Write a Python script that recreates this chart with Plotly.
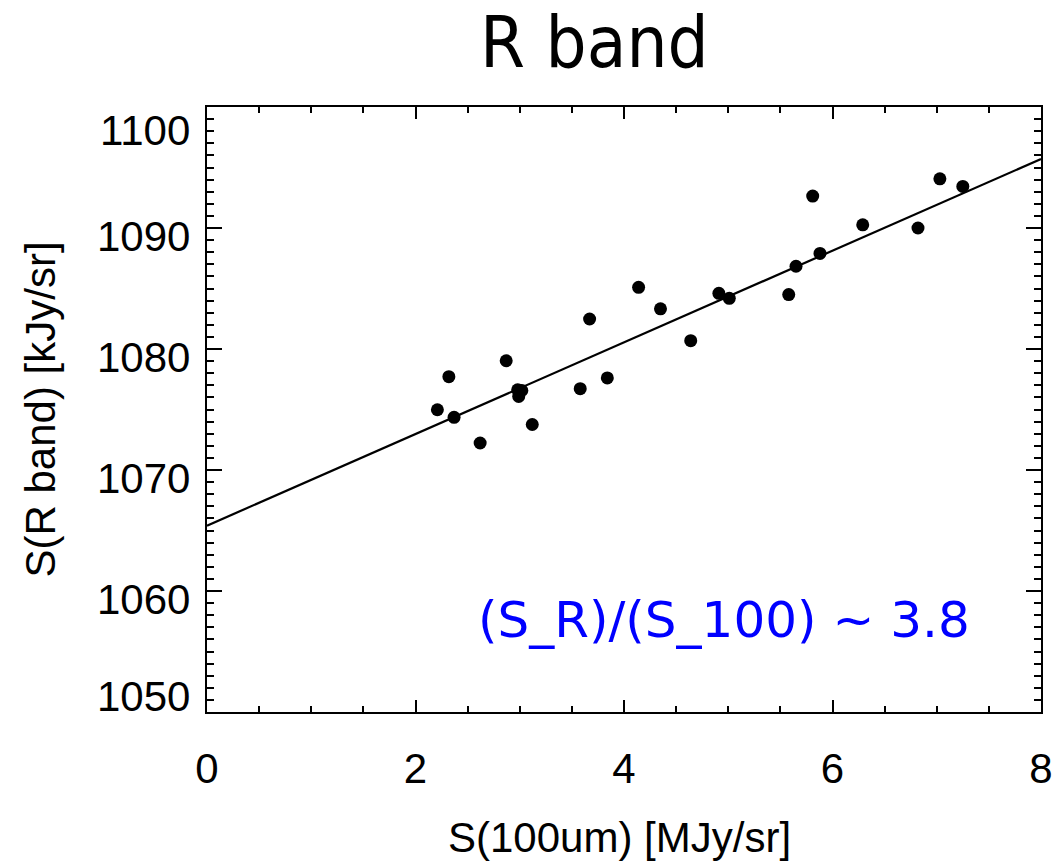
import plotly.graph_objects as go

# ---- data ----
s100 = [2.21, 2.32, 2.37, 2.62, 2.87, 2.98, 3.02, 2.99, 3.12, 3.58, 3.67, 3.84,
        4.14, 4.35, 4.64, 4.91, 5.01, 5.58, 5.65, 5.81, 5.88, 6.29, 6.82, 7.03, 7.25]
sR = [1074.98, 1077.71, 1074.35, 1072.23, 1079.03, 1076.63, 1076.57, 1076.08, 1073.76,
      1076.72, 1082.48, 1077.61, 1085.10, 1083.32, 1080.69, 1084.60, 1084.19, 1084.50,
      1086.84, 1092.64, 1087.90, 1090.26, 1090.00, 1094.06, 1093.44]
fit_x = [0, 8]
fit_y = [1065.4, 1095.7]
y_tick_vals = [1050, 1060, 1070, 1080, 1090, 1100]
y_tick_text = ["1050", "1060", "1070", "1080", "1090", "1100"]
x_tick_vals = [0, 2, 4, 6, 8]
x_tick_text = ["0", "2", "4", "6", "8"]

title_text = "R band"
x_title = "S(100um) [MJy/sr]"
y_title = "S(R band) [kJy/sr]"
ratio_text = "(S_R)/(S_100) ~ 3.8"

TICK_FONT = dict(family="Liberation Sans, Arial, sans-serif", size=42, color="black")

fig = go.Figure()
fig.add_trace(go.Scatter(x=fit_x, y=fit_y, mode="lines",
                         line=dict(color="black", width=2.2), showlegend=False))
fig.add_trace(go.Scatter(x=s100, y=sR, mode="markers",
                         marker=dict(color="black", size=13, line=dict(width=0)),
                         showlegend=False))

annotations = []
# y tick labels (IDL style: slightly below the tick, end labels kept inside the frame)
for i, (v, t) in enumerate(zip(y_tick_vals, y_tick_text)):
    if i == 0:
        ys = 16
    elif i == len(y_tick_vals) - 1:
        ys = -23
    else:
        ys = -8
    annotations.append(dict(x=0, xref="paper", xanchor="right", xshift=-15,
                            y=v, yref="y", yanchor="middle", yshift=ys,
                            text=t, showarrow=False, font=TICK_FONT))

annotations.append(dict(x=0.465, xref="paper", y=1.107, yref="paper",
                        xanchor="center", yanchor="middle", showarrow=False,
                        text=title_text,
                        font=dict(family="DejaVu Sans Condensed, DejaVu Sans", size=72, color="black")))
annotations.append(dict(x=0.495, xref="paper", y=-0.208, yref="paper",
                        xanchor="center", yanchor="middle", showarrow=False,
                        text=x_title, font=TICK_FONT))
annotations.append(dict(x=0, xref="paper", xshift=-167, y=0.5, yref="paper",
                        xanchor="center", yanchor="middle", showarrow=False,
                        textangle=-90, text=y_title, font=TICK_FONT))
annotations.append(dict(x=0.323, xref="paper", y=0.1526, yref="paper",
                        xanchor="left", yanchor="middle", showarrow=False,
                        text=ratio_text,
                        font=dict(family="DejaVu Sans", size=50, color="#0000FF")))

fig.update_layout(
    width=1056, height=861, autosize=False,
    margin=dict(l=207, r=15, t=107, b=149, autoexpand=False),
    paper_bgcolor="white", plot_bgcolor="white",
    annotations=annotations,
    showlegend=False,
)
fig.update_xaxes(range=[0, 8], tickvals=x_tick_vals, ticktext=x_tick_text,
                 ticks="inside", ticklen=12, tickwidth=2, tickcolor="black",
                 minor=dict(dtick=0.5, ticks="inside", ticklen=6, tickwidth=2, tickcolor="black"),
                 showline=True, linewidth=2, linecolor="black", mirror="allticks",
                 showgrid=False, zeroline=False, tickfont=TICK_FONT, ticklabelstandoff=19,
                 automargin=False)
fig.update_yaxes(range=[1050, 1100], tickvals=y_tick_vals, showticklabels=False,
                 ticks="inside", ticklen=15, tickwidth=2, tickcolor="black",
                 minor=dict(dtick=1, ticks="inside", ticklen=7, tickwidth=2, tickcolor="black"),
                 showline=True, linewidth=2, linecolor="black", mirror="allticks",
                 showgrid=False, zeroline=False, automargin=False)

fig.write_html("out.html",
               config={"displayModeBar": False, "responsive": False},
               post_script="document.body.style.margin='0';document.body.style.overflow='hidden';")
